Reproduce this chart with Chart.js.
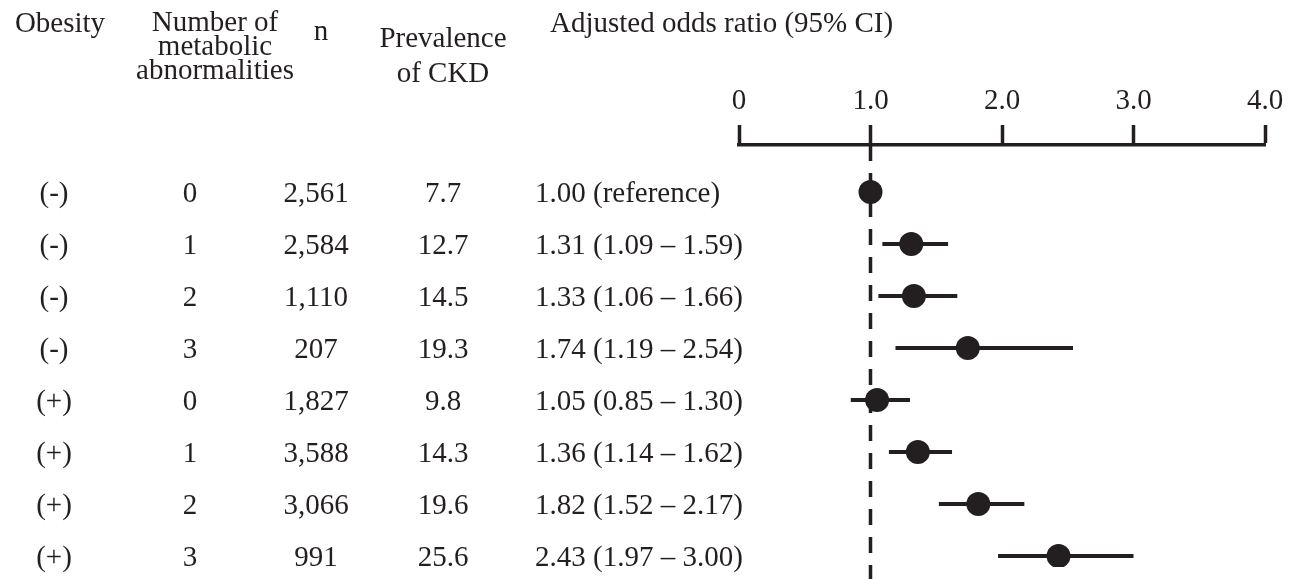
<!DOCTYPE html>
<html>
<head>
<meta charset="utf-8">
<script src="https://cdn.jsdelivr.net/npm/chart.js@4.4.0/dist/chart.umd.min.js"></script>
<style>
  html, body { margin: 0; padding: 0; background: #fff; }
  #wrap {
    position: relative; width: 1296px; height: 579px; overflow: hidden;
    font-family: "Liberation Serif", "Times New Roman", serif; font-size: 29px; color: #231f20;
  }
  #wrap canvas { position: absolute; left: 0; top: 0; }
  .t { position: absolute; white-space: nowrap; line-height: 1; transform: translate(-50%, -50%); }
  .left { transform: translate(0, -50%); }
  .head { position: absolute; white-space: nowrap; text-align: center; line-height: 24px; transform: translate(-50%, 0); }
</style>
</head>
<body>
<div id="wrap">
  <canvas id="forest" width="1296" height="579"></canvas>
  <div class="t" style="left:60px;top:22px">Obesity</div>
  <div class="head" style="left:215px;top:9px">Number of<br>metabolic<br>abnormalities</div>
  <div class="t" style="left:321px;top:30px">n</div>
  <div class="t" style="left:443px;top:37px">Prevalence</div>
  <div class="t" style="left:443px;top:72px">of CKD</div>
  <div class="t left" style="left:550px;top:22px">Adjusted odds ratio (95% CI)</div>
</div>
<script>
// table columns
const obesity = ['(-)', '(-)', '(-)', '(-)', '(+)', '(+)', '(+)', '(+)'];
const abnormalities = ['0', '1', '2', '3', '0', '1', '2', '3'];
const nSubjects = ['2,561', '2,584', '1,110', '207', '1,827', '3,588', '3,066', '991'];
const prevalence = ['7.7', '12.7', '14.5', '19.3', '9.8', '14.3', '19.6', '25.6'];

// odds ratios and 95% CI (first row is the reference group)
const oddsRatio = [1.00, 1.31, 1.33, 1.74, 1.05, 1.36, 1.82, 2.43];
const ciLow = [null, 1.09, 1.06, 1.19, 0.85, 1.14, 1.52, 1.97];
const ciHigh = [null, 1.59, 1.66, 2.54, 1.30, 1.62, 2.17, 3.00];

const xTicks = [0, 1, 2, 3, 4];
const refValue = 1.0;

const ink = '#231f20';
const fontFamily = '"Liberation Serif", "Times New Roman", serif';
// row axis: rows 0..7 top to bottom; the dashed line runs past the last row
const yMin = -0.904, yMax = 7.21, refLineEnd = 7.45;

const orLabel = i => ciLow[i] === null
  ? oddsRatio[i].toFixed(2) + ' (reference)'
  : oddsRatio[i].toFixed(2) + ' (' + ciLow[i].toFixed(2) + ' \u2013 ' + ciHigh[i].toFixed(2) + ')';

// one short line per confidence interval
const ciSets = oddsRatio.map((v, i) => ({
  data: ciLow[i] === null ? [] : [{ x: ciLow[i], y: i }, { x: ciHigh[i], y: i }],
  showLine: true,
  borderColor: ink,
  borderWidth: 4,
  pointRadius: 0,
  order: 1
}));

const chart = new Chart(document.getElementById('forest'), {
  type: 'scatter',
  data: {
    datasets: [
      {
        data: oddsRatio.map((v, i) => ({ x: v, y: i })),
        pointStyle: 'circle',
        pointRadius: 12,
        backgroundColor: ink,
        borderWidth: 0,
        order: 0
      },
      ...ciSets,
      {
        data: [{ x: refValue, y: yMin }, { x: refValue, y: refLineEnd }],
        showLine: true,
        borderColor: ink,
        borderWidth: 3.5,
        borderDash: [16, 12],
        pointRadius: 0,
        clip: false,
        order: 2
      }
    ]
  },
  options: {
    responsive: false,
    animation: false,
    events: [],
    layout: { padding: { left: 739, right: 31, top: 0, bottom: 0 } },
    plugins: { legend: { display: false }, tooltip: { enabled: false } },
    scales: {
      x: {
        type: 'linear',
        position: 'top',
        min: 0,
        max: 4,
        afterBuildTicks: s => { s.ticks = xTicks.map(v => ({ value: v })); },
        afterFit: s => { s.height = 145; },
        ticks: {
          color: ink,
          padding: 6,
          maxRotation: 0,
          font: { family: fontFamily, size: 29 },
          callback: v => v === 0 ? '0' : v.toFixed(1)
        },
        grid: {
          drawOnChartArea: false,
          drawTicks: true,
          tickLength: 20,
          tickWidth: 3.5,
          tickColor: ink
        },
        border: { display: true, color: ink, width: 3.5 }
      },
      y: {
        type: 'linear',
        min: yMin,
        max: yMax,
        reverse: true,
        display: false
      }
    }
  }
});

// table rows placed on the chart's row positions
const wrap = document.getElementById('wrap');
const yScale = chart.scales.y;
const addCell = (text, x, y, cls) => {
  const d = document.createElement('div');
  d.className = cls;
  d.textContent = text;
  d.style.left = x + 'px';
  d.style.top = y + 'px';
  wrap.appendChild(d);
};
oddsRatio.forEach((v, i) => {
  const y = yScale.getPixelForValue(i);
  addCell(obesity[i], 54, y, 't');
  addCell(abnormalities[i], 190, y, 't');
  addCell(nSubjects[i], 316, y, 't');
  addCell(prevalence[i], 443, y, 't');
  addCell(orLabel(i), 535, y, 't left');
});
</script>
</body>
</html>
